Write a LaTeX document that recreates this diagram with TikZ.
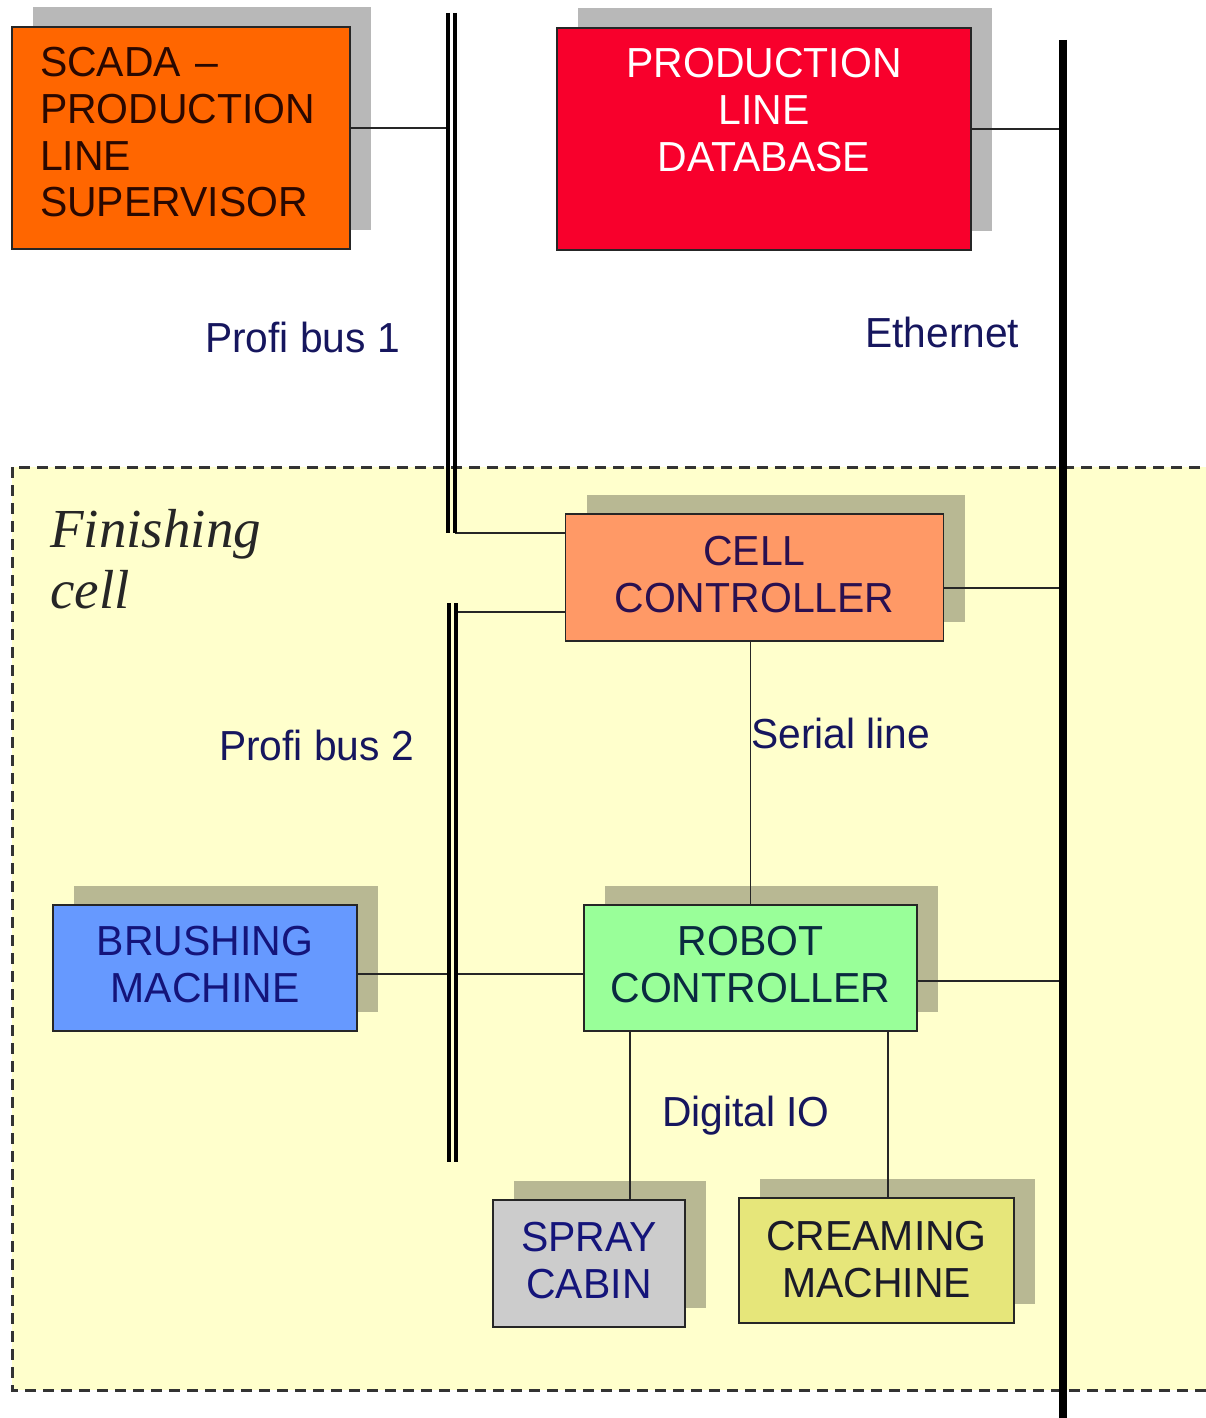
\documentclass[tikz,border=0pt]{standalone}
\usepackage{fontspec}
\setmainfont{Liberation Sans}[FakeStretch=0.975]
\newfontfamily\finfont{Liberation Serif}
\newfontfamily\lblfont{Liberation Sans}[FakeStretch=0.97]
\usetikzlibrary{shadows}
\definecolor{scadac}{HTML}{FF6600}
\definecolor{dbc}{HTML}{F8002C}
\definecolor{cellc}{HTML}{FF9966}
\definecolor{robotc}{HTML}{99FF99}
\definecolor{brushc}{HTML}{6699FF}
\definecolor{sprayc}{HTML}{CCCCCC}
\definecolor{creamc}{HTML}{E6E67A}
\definecolor{cellbg}{HTML}{FFFFCC}
\definecolor{navyt}{HTML}{16165E}
\definecolor{scadat}{HTML}{2A0800}
\definecolor{cellt}{HTML}{2A1050}
\definecolor{robott}{HTML}{0A2A40}
\definecolor{brusht}{HTML}{14147A}
\definecolor{creamt}{HTML}{1A1A2A}
\begin{document}
\begin{tikzpicture}[x=1pt,y=-1pt,
  box/.style={rectangle, draw=black!85, line width=1.6pt, align=center,
    font=\fontsize{42}{46.7}\selectfont,
    general shadow={fill=black, fill opacity=0.28, shadow xshift=21pt, shadow yshift=19.5pt}},
  lbl/.style={inner sep=0pt, anchor=base west, text=navyt, font=\lblfont\fontsize{42}{46.7}\selectfont},
  conn/.style={line width=1.8pt, draw=black!85},
  busline/.style={line width=3.2pt, draw=black},
  ethline/.style={line width=8pt, draw=black}]
\useasboundingbox (0,0) rectangle (1206,1418);
\fill[white] (0,0) rectangle (1206,1418);
\fill[cellbg] (12,467) rectangle (1222,1390);

% boxes
\node[box, fill=scadac, text=scadat, minimum width=338, minimum height=222,
  text width=282, inner xsep=28, align=left, text depth=152] (scada) at (181,138)
  {SCADA --\\PRODUCTION\\LINE\\SUPERVISOR};
\node[box, fill=dbc, text=white, minimum width=414, minimum height=222, text depth=58] (db) at (764,139)
  {PRODUCTION\\LINE\\DATABASE};
\node[box, fill=cellc, text=cellt, minimum width=378, minimum height=127, text depth=7] (cell) at (754.5,577.5)
  {CELL\\CONTROLLER};
\node[box, fill=robotc, text=robott, minimum width=333, minimum height=126, text depth=7] (robot) at (750.5,968)
  {ROBOT\\CONTROLLER};
\node[box, fill=brushc, text=brusht, minimum width=304, minimum height=126, text depth=7] (brush) at (205,968)
  {BRUSHING\\MACHINE};
\node[box, fill=sprayc, text=brusht, minimum width=192, minimum height=127, text depth=6] (spray) at (589,1263.5)
  {SPRAY\\CABIN};
\node[box, fill=creamc, text=creamt, minimum width=275, minimum height=125, text depth=3] (cream) at (876.5,1260.5)
  {CREAMING\\MACHINE};

% labels
\node[lbl] (pb1) at (205,352) {Profi bus 1};
\node[lbl] (eth) at (865,347) {Ethernet};
\node[lbl] (pb2) at (219,760) {Profi bus 2};
\node[lbl] (ser) at (751,748) {Serial line};
\node[lbl] (dio) at (662,1126) {Digital IO};
\node[inner sep=0pt, anchor=base west, align=left, text=black!85,
  font=\finfont\itshape\fontsize{55}{61}\selectfont] (fin) at (50,608) {Finishing\\cell};

% bus coordinates
\coordinate (b1Lt) at (448,13);  \coordinate (b1Lb) at (448,533);
\coordinate (b1Rt) at (455,13);  \coordinate (b1Rb) at (455,533);
\coordinate (b2Lt) at (449,603); \coordinate (b2Lb) at (449,1162);
\coordinate (b2Rt) at (456,603); \coordinate (b2Rb) at (456,1162);
\coordinate (etht) at (1063,40); \coordinate (ethb) at (1063,1420);

% connectors
\coordinate (s1) at ([yshift=10pt]scada.east);
\draw[conn] (s1) -- (s1 -| b1Lt);
\coordinate (d1) at ([yshift=10pt]db.east);
\draw[conn] (d1) -- (d1 -| etht);
\draw[conn] (b1Rb) -- (b1Rb -| cell.west);
\coordinate (c2) at ([yshift=-34.5pt]cell.west);
\draw[conn] (c2) -- (c2 -| b2Rt);
\coordinate (c3) at ([yshift=-10.5pt]cell.east);
\draw[conn] (c3) -- (c3 -| etht);
\draw[conn] (robot.north) -- (robot.north |- cell.south);
\coordinate (bm) at ([yshift=-6pt]brush.east);
\draw[conn] (bm) -- (bm -| b2Lt);
\coordinate (r0) at ([yshift=-6pt]robot.west);
\draw[conn] (r0) -- (r0 -| b2Rt);
\coordinate (r3) at ([yshift=-13pt]robot.east);
\draw[conn] (r3) -- (r3 -| etht);
\coordinate (r1) at ([xshift=-120.5pt]robot.south);
\draw[conn] (r1) -- (r1 |- spray.north);
\coordinate (r2) at ([xshift=137.5pt]robot.south);
\draw[conn] (r2) -- (r2 |- cream.north);

% finishing cell border
\draw[line width=3pt, dash pattern=on 11pt off 7pt, draw=black!80] (12,467) rectangle (1222,1390);

% buses
\draw[busline] (b1Lt) -- (b1Lb);
\draw[busline] (b1Rt) -- (b1Rb);
\draw[busline] (b2Lt) -- (b2Lb);
\draw[busline] (b2Rt) -- (b2Rb);
\draw[ethline] (etht) -- (ethb);
\end{tikzpicture}
\end{document}
